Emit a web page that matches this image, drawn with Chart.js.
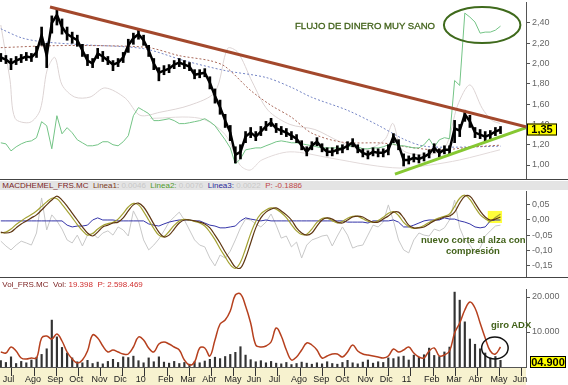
<!DOCTYPE html>
<html>
<head>
<meta charset="utf-8">
<script src="https://cdn.jsdelivr.net/npm/chart.js@4.4.0/dist/chart.umd.min.js"></script>
<style>
body { margin: 0; background: #fff; font-family: Arial, "Liberation Sans", sans-serif; }
#wrap { position: relative; width: 568px; height: 385px; overflow: hidden; }
canvas { position: absolute; left: 0; }
.hdr { position: absolute; left: 0; width: 568px; height: 9px; font-size: 8px; line-height: 9px; white-space: nowrap; }
.note { position: absolute; color: #42621a; white-space: nowrap; }
</style>
</head>
<body>
<div id="wrap">
  <canvas id="cPrice" width="568" height="180" style="top:0"></canvas>
  <canvas id="cMacd" width="568" height="98" style="top:180px"></canvas>
  <canvas id="cVol" width="568" height="107" style="top:278px"></canvas>

  <div class="hdr" style="top:181px;background:#e4e4e4;">
    &nbsp;<span style="color:#7a1e1e">MACDHEMEL_FRS.MC</span>&nbsp;
    <span style="color:#7a3a1a">Linea1:</span> <span style="color:#c8c8c8">0.0046</span>&nbsp;
    <span style="color:#4f9a2a">Linea2:</span> <span style="color:#c8c8c8">0.0076</span>&nbsp;
    <span style="color:#2a2a9a">Linea3:</span> <span style="color:#c8c8c8">0.0022</span>&nbsp;
    <span style="color:#c04848">P: -0.1886</span>
  </div>
  <div class="hdr" style="top:280px;">
    &nbsp;<span style="color:#7a1e1e">Vol_FRS.MC</span>&nbsp;
    <span style="color:#7a1e1e">Vol:</span> <span style="color:#d03030">19.398</span>&nbsp;
    <span style="color:#d03030">P: 2.598.469</span>
  </div>

  <div class="note" style="left:295px;top:20px;font-size:9.6px;-webkit-text-stroke:0.3px #42621a;">FLUJO DE DINERO MUY SANO</div>
  <div class="note" style="left:421px;top:234px;font-size:9.5px;font-weight:bold;">nuevo corte al alza con</div>
  <div class="note" style="left:446px;top:245px;font-size:9.5px;font-weight:bold;">compresión</div>
  <div class="note" style="left:491px;top:319px;font-size:9.5px;font-weight:bold;">giro ADX</div>
</div>

<script>
// x axis: weeks since 1 Jul 2009
var X_MIN = -0.16, X_MAX = 103;
var WEEKS_PER_MONTH = 4.348;
var monthLabels = ['Jul', 'Ago', 'Sep', 'Oct', 'Nov', 'Dic', '10', 'Feb', 'Mar', 'Abr', 'May', 'Jun',
    'Jul', 'Ago', 'Sep', 'Oct', 'Nov', 'Dic', '11', 'Feb', 'Mar', 'Abr', 'May', 'Jun'];

var priceTicks = [1.00, 1.20, 1.40, 1.60, 1.80, 2.00, 2.20, 2.40];
var macdTicks = [-0.15, -0.10, -0.05, 0, 0.05];
var volTicks = [10000, 20000];

// weekly price: close, low, high
var priceClose = [2.06, 2.04, 2.00, 2.03, 2.05, 2.07, 2.06, 2.11, 2.28, 2.08,
    2.40, 2.48, 2.36, 2.29, 2.26, 2.23, 2.13, 2.03, 2.00, 2.10,
    2.07, 2.03, 1.99, 2.01, 2.06, 2.18, 2.25, 2.29, 2.23, 2.13,
    2.00, 1.91, 1.93, 1.95, 1.99, 2.01, 1.99, 1.97, 1.89, 1.90,
    1.91, 1.81, 1.68, 1.57, 1.44, 1.32, 1.10, 1.13, 1.28, 1.32,
    1.28, 1.33, 1.38, 1.42, 1.36, 1.34, 1.32, 1.29, 1.26, 1.19,
    1.13, 1.19, 1.23, 1.17, 1.13, 1.13, 1.15, 1.16, 1.19, 1.22,
    1.16, 1.12, 1.10, 1.13, 1.12, 1.12, 1.15, 1.28, 1.20, 1.05,
    1.05, 1.07, 1.06, 1.08, 1.11, 1.17, 1.12, 1.15, 1.15, 1.36,
    1.34, 1.50, 1.43, 1.32, 1.30, 1.28, 1.30, 1.33, 1.35];
var priceLow = [2.02, 2.00, 1.94, 1.99, 2.01, 2.03, 2.02, 2.06, 2.18, 1.96,
    2.30, 2.38, 2.29, 2.23, 2.20, 2.17, 2.07, 1.98, 1.96, 2.05,
    2.02, 1.99, 1.93, 1.97, 2.01, 2.11, 2.19, 2.24, 2.18, 2.07,
    1.94, 1.83, 1.89, 1.91, 1.95, 1.97, 1.95, 1.93, 1.85, 1.86,
    1.87, 1.75, 1.61, 1.50, 1.37, 1.24, 1.02, 1.06, 1.22, 1.27,
    1.24, 1.29, 1.34, 1.38, 1.32, 1.30, 1.28, 1.25, 1.22, 1.15,
    1.09, 1.15, 1.19, 1.13, 1.09, 1.09, 1.11, 1.12, 1.15, 1.18,
    1.12, 1.08, 1.06, 1.09, 1.08, 1.08, 1.10, 1.22, 1.15, 0.99,
    1.01, 1.03, 1.02, 1.04, 1.07, 1.12, 1.08, 1.11, 1.11, 1.22,
    1.28, 1.43, 1.37, 1.27, 1.26, 1.24, 1.26, 1.29, 1.31];
var priceHigh = [2.10, 2.08, 2.05, 2.07, 2.09, 2.11, 2.10, 2.17, 2.36, 2.20,
    2.47, 2.53, 2.44, 2.36, 2.31, 2.28, 2.19, 2.09, 2.05, 2.15,
    2.12, 2.07, 2.03, 2.05, 2.11, 2.24, 2.30, 2.34, 2.28, 2.18,
    2.05, 1.96, 1.98, 1.99, 2.03, 2.05, 2.03, 2.01, 1.94, 1.94,
    1.95, 1.87, 1.75, 1.64, 1.50, 1.39, 1.18, 1.20, 1.33, 1.37,
    1.33, 1.38, 1.43, 1.46, 1.41, 1.38, 1.36, 1.33, 1.30, 1.24,
    1.18, 1.23, 1.27, 1.21, 1.17, 1.17, 1.19, 1.20, 1.23, 1.26,
    1.20, 1.16, 1.14, 1.17, 1.16, 1.16, 1.20, 1.31, 1.25, 1.11,
    1.09, 1.11, 1.10, 1.12, 1.15, 1.21, 1.16, 1.19, 1.19, 1.44,
    1.40, 1.54, 1.49, 1.37, 1.35, 1.33, 1.34, 1.37, 1.38];
var lastPrice = 1.35;

// money flow (0-100)
var flow = [20, 19.4, 15.4, 17.7, 19.4, 20.6, 21.1, 22.9, 32, 29.7,
    16.6, 35.4, 25.1, 28.6, 25.7, 21.7, 20, 18.3, 18.3, 18.9,
    20.6, 20.6, 18.9, 18.3, 20.6, 24, 35.4, 40, 38.3, 36.6,
    32.6, 32.6, 33.1, 33.7, 32.6, 30.9, 30.9, 31.4, 32, 32.6,
    33.7, 32, 29.7, 25.7, 21.7, 17.1, 8, 10.9, 16, 16.6,
    17.1, 17.1, 18.3, 19.4, 20.6, 21.1, 20.6, 20, 20, 19.4,
    18.9, 18.3, 17.7, 17.1, 17.1, 17.1, 17.1, 17.1, 17.7, 18.3,
    17.7, 16.6, 16.6, 17.1, 17.1, 17.7, 18.9, 19.4, 18.3, 18.3,
    17.7, 17.1, 17.1, 18.9, 22.3, 17.7, 21.7, 22.9, 22.3, 55.4,
    52.6, 93.7, 91.4, 88.6, 82.3, 82.9, 82.9, 84, 86.3];

// moving averages
var maShortWeeks = [0, 10, 20, 29, 35, 41, 44, 49, 53, 57, 61, 67, 75, 80, 86, 92, 98];
var maShortVals = [2.157, 2.176, 2.176, 2.157, 2.078, 2.029, 1.971, 1.735, 1.588, 1.471, 1.314, 1.225, 1.216, 1.176, 1.147, 1.176, 1.196];
var maLongWeeks = [0, 4, 8, 16, 28, 36, 44, 52, 57, 61, 68, 74, 79, 83, 89, 98];
var maLongVals = [2.343, 2.255, 2.216, 2.186, 2.147, 2.029, 1.931, 1.863, 1.765, 1.667, 1.539, 1.392, 1.255, 1.186, 1.176, 1.186];

// pale bands
var bandUpWeeks = [0, 1.8, 2.8, 5.7, 7.7, 9.1, 10.6, 12.0, 14.5, 17.5, 20.4, 24.4, 27.3, 31.2, 37.1, 42.0, 44.5, 46.5,
    49.3, 52.4, 56.7, 61.6, 66.5, 71.4, 75.3, 76.9, 78.7, 83.2, 87.1, 89.6, 92.0, 94.4, 96.3, 97.9];
var bandUpVals = [2.38, 1.84, 1.46, 1.42, 1.54, 1.94, 2.06, 1.79, 1.67, 1.67, 1.76, 1.66, 1.49, 1.52, 1.59, 1.72, 2.15, 2.11,
    1.82, 1.54, 1.40, 1.35, 1.23, 1.15, 1.25, 1.41, 1.15, 1.10, 1.17, 1.59, 1.79, 1.56, 1.44, 1.41];
var bandLowWeeks = [29.3, 39.1, 44.0, 46.9, 48.9, 51.2, 56.7, 64.5, 72.4, 78.3, 84.2, 90.0, 97.9];
var bandLowVals = [1.46, 1.46, 1.30, 1.00, 0.95, 1.05, 1.13, 1.07, 1.00, 0.97, 1.00, 1.05, 1.15];

// trend lines
var resistWeeks = [9.65, 103];
var resistVals = [2.558, 1.377];
var supportWeeks = [77.3, 103];
var supportVals = [0.911, 1.368];

// MACD
var macdLinea1 = [-0.040, -0.043, -0.040, -0.026, -0.013, -0.003, 0.007, 0.017, 0.033, 0.050,
    0.066, 0.079, 0.066, 0.046, 0.023, 0.000, -0.023, -0.043, -0.053, -0.040,
    -0.023, -0.017, -0.010, -0.007, 0.007, 0.030, 0.050, 0.056, 0.043, 0.017,
    -0.013, -0.040, -0.056, -0.050, -0.030, -0.010, 0.000, 0.000, -0.003, -0.007,
    -0.013, -0.026, -0.050, -0.076, -0.106, -0.132, -0.156, -0.159, -0.126, -0.076,
    -0.026, 0.007, 0.026, 0.036, 0.040, 0.030, 0.017, 0.000, -0.026, -0.043,
    -0.050, -0.043, -0.020, 0.000, 0.007, 0.003, -0.007, -0.010, 0.000, 0.010,
    0.013, 0.010, 0.000, -0.007, -0.007, 0.003, 0.013, 0.026, 0.026, 0.007,
    -0.017, -0.026, -0.026, -0.023, -0.013, -0.003, 0.003, 0.010, 0.013, 0.026,
    0.056, 0.079, 0.079, 0.056, 0.030, 0.010, 0.000, 0.003, 0.010];
var macdLinea2 = [-0.043, -0.040, -0.030, -0.015, -0.003, 0.008, 0.018, 0.030, 0.045, 0.060,
    0.072, 0.070, 0.052, 0.030, 0.008, -0.015, -0.035, -0.050, -0.045, -0.030,
    -0.018, -0.012, -0.008, 0.003, 0.022, 0.043, 0.055, 0.050, 0.028, 0.000,
    -0.028, -0.050, -0.055, -0.038, -0.018, -0.003, 0.002, 0.000, -0.005, -0.010,
    -0.020, -0.040, -0.065, -0.095, -0.122, -0.148, -0.160, -0.140, -0.095, -0.045,
    -0.005, 0.020, 0.033, 0.040, 0.036, 0.024, 0.008, -0.015, -0.036, -0.048,
    -0.047, -0.030, -0.008, 0.005, 0.006, -0.002, -0.010, -0.005, 0.006, 0.012,
    0.012, 0.004, -0.004, -0.008, -0.002, 0.009, 0.022, 0.028, 0.015, -0.008,
    -0.022, -0.028, -0.025, -0.018, -0.008, 0.000, 0.007, 0.012, 0.020, 0.045,
    0.072, 0.082, 0.068, 0.042, 0.018, 0.004, -0.003, 0.008, 0.020];
var macdLinea3 = [-0.003, -0.003, -0.003, -0.003, -0.003, -0.003, -0.003, -0.003, -0.003, -0.003,
    -0.003, -0.003, -0.003, -0.017, -0.023, -0.020, -0.020, -0.017, 0.000, 0.007,
    0.000, 0.000, 0.000, -0.003, -0.003, -0.003, -0.003, -0.003, -0.003, -0.013,
    -0.017, -0.020, -0.013, -0.007, -0.003, 0.000, 0.000, 0.000, -0.003, -0.003,
    -0.010, -0.017, -0.020, -0.026, -0.026, -0.023, -0.020, -0.003, 0.007, 0.003,
    0.000, -0.003, 0.000, -0.003, -0.003, -0.003, -0.003, -0.003, -0.003, -0.003,
    -0.003, -0.003, -0.003, -0.003, -0.003, -0.003, -0.003, -0.003, -0.007, -0.007,
    -0.007, -0.007, -0.010, -0.003, -0.003, -0.003, -0.003, 0.000, -0.007, -0.023,
    -0.023, -0.017, -0.010, -0.003, 0.000, 0.000, 0.000, 0.007, 0.003, 0.003,
    -0.003, -0.007, -0.013, -0.023, -0.026, -0.023, -0.003, 0.000, 0.000];
var macdOsc = [-0.070, -0.086, -0.099, -0.083, -0.070, -0.076, -0.083, -0.043, 0.073, -0.033,
    0.017, -0.003, -0.030, -0.066, -0.076, -0.050, -0.086, -0.050, -0.043, -0.060,
    -0.043, -0.036, -0.050, -0.023, -0.033, -0.053, 0.030, -0.003, -0.066, -0.099,
    -0.083, -0.063, -0.036, -0.007, 0.010, 0.026, 0.000, -0.033, -0.066, -0.083,
    -0.089, -0.126, -0.152, -0.116, -0.126, -0.103, -0.066, -0.026, 0.003, 0.000,
    -0.013, -0.023, -0.007, 0.020, -0.017, -0.060, -0.053, -0.089, -0.073, -0.126,
    -0.083, -0.066, -0.060, -0.053, -0.050, -0.086, -0.053, -0.023, -0.050, -0.093,
    -0.086, -0.083, -0.050, -0.017, -0.023, -0.007, 0.050, -0.003, -0.066, -0.099,
    -0.109, -0.066, -0.043, -0.050, -0.053, -0.030, -0.036, -0.026, 0.000, 0.066,
    -0.026, -0.066, -0.083, -0.109, -0.093, -0.053, -0.036, -0.020, -0.017];

// volume and ADX
var volume = [1800, 1300, 2900, 1000, 1600, 1200, 2000, 2800, 3600, 5200,
    13400, 8600, 5600, 4000, 2600, 1500, 1200, 1900, 1000, 1400,
    900, 1600, 2200, 1300, 2900, 2700, 3100, 1800, 1200, 2600,
    1500, 2900, 1400, 1100, 1600, 1000, 1300, 800, 1500, 1200,
    1700, 2200, 2800, 2400, 3000, 3600, 4200, 5800, 3400, 2100,
    1500, 1800, 1200, 1600, 1100, 900, 1300, 700, 1000, 1400,
    1100, 800, 1200, 900, 1500, 1000, 800, 1300, 1900, 1200,
    900, 1400, 2000, 1100, 1500, 1300, 2600, 2400, 2900, 3100,
    2000, 3400, 2800, 3500, 5400, 3300, 3000, 4300, 5700, 21400,
    19100, 12900, 8000, 6500, 5200, 4000, 2600, 3000, 1900];
var adx = [15, 14, 20, 16, 9, 8, 9, 9, 29, 31,
    28, 33, 26, 15, 8, 4, 7, 16, 32, 29,
    21, 15, 17, 15, 13, 13, 20, 30, 27, 19,
    15, 23, 25, 23, 20, 17, 7, 2, 5, 19,
    19, 11, 27, 43, 47, 56, 72, 73, 61, 44,
    22, 20, 21, 25, 39, 31, 17, 7, 10, 17,
    24, 22, 17, 9, 11, 13, 13, 10, 15, 22,
    16, 13, 12, 11, 10, 9, 11, 18, 15, 17,
    20, 14, 10, 9, 16, 19, 11, 12, 16, 34,
    44, 57, 65, 59, 44, 29, 16, 13, 20];
var lastVolLabel = '04.900';

// annotations (data units)
var flowOval = { week: 94.4, value: 2.38, rw: 7.5, rv: 0.178 };
var crossBox = { from: 95.5, to: 98.3, low: -0.010, high: 0.030 };
var adxOval = { week: 96.9, value: 19, rw: 2.6, rv: 11 };

Chart.defaults.font.family = 'Arial, "Liberation Sans", sans-serif';

function pts(xs, ys) {
    return ys.map(function (v, i) { return { x: xs ? xs[i] : i, y: v }; });
}
function fmtDec(v) { return v.toFixed(2).replace('.', ','); }
function fmtVol(v) { return String(Math.round(v)).replace(/\B(?=(\d{3})+(?!\d))/g, '.'); }

function xHidden() {
    return { type: 'linear', min: X_MIN, max: X_MAX, offset: false, display: false };
}
function rightAxis(min, max, ticks, fmt) {
    return {
        position: 'right', min: min, max: max,
        afterBuildTicks: function (s) { s.ticks = ticks.map(function (v) { return { value: v }; }); },
        afterFit: function (s) { s.width = 42; s.paddingTop = 0; s.paddingBottom = 0; },
        grid: { drawOnChartArea: false, drawTicks: true, tickLength: 4, color: '#555' },
        border: { display: true, color: '#555' },
        ticks: { font: { size: 9 }, color: '#666', padding: 2, callback: function (v) { return fmt(v); } }
    };
}
function line(label, data, color, extra) {
    var d = { type: 'line', label: label, data: data, borderColor: color, borderWidth: 1, pointRadius: 0, tension: 0, fill: false };
    for (var k in extra) d[k] = extra[k];
    return d;
}
function oval(ctx, xs, ys, o, color, width) {
    var cx = xs.getPixelForValue(o.week), cy = ys.getPixelForValue(o.value);
    var rx = xs.getPixelForValue(o.week + o.rw) - cx;
    var ry = cy - ys.getPixelForValue(o.value + o.rv);
    ctx.save();
    ctx.strokeStyle = color;
    ctx.lineWidth = width;
    ctx.beginPath();
    ctx.ellipse(cx, cy, rx, ry, 0, 0, Math.PI * 2);
    ctx.stroke();
    ctx.restore();
}
function bottomLine(chart) {
    var c = chart.ctx;
    c.save();
    c.strokeStyle = '#444';
    c.beginPath();
    c.moveTo(0, chart.height - 0.5);
    c.lineTo(chart.width, chart.height - 0.5);
    c.stroke();
    c.restore();
}
function valueBox(ctx, x, y, w, text) {
    ctx.save();
    ctx.fillStyle = '#ffff00';
    ctx.fillRect(x, y - 6, w, 12);
    ctx.strokeStyle = '#000';
    ctx.lineWidth = 1;
    ctx.strokeRect(x + 0.5, y - 5.5, w - 1, 11);
    ctx.fillStyle = '#000';
    ctx.font = 'bold 11px Arial, "Liberation Sans"';
    ctx.textAlign = 'center';
    ctx.textBaseline = 'middle';
    ctx.fillText(text, x + w / 2, y + 0.5);
    ctx.restore();
}

var common = { responsive: false, animation: false, devicePixelRatio: 1,
    plugins: { legend: { display: false }, tooltip: { enabled: false } } };
function opts(extra) {
    var o = JSON.parse(JSON.stringify(common));
    for (var k in extra) o[k] = extra[k];
    return o;
}

// ---- price panel
var priceBars = priceLow.map(function (lo, i) { return { x: i, y: [lo, priceHigh[i]] }; });

new Chart(document.getElementById('cPrice'), {
    type: 'bar',
    data: {
        datasets: [
            line('Resistencia', pts(resistWeeks, resistVals), '#a3482c', { borderWidth: 3, order: 0 }),
            line('Soporte', pts(supportWeeks, supportVals), '#86c832', { borderWidth: 3, order: 0 }),
            line('Cierre', pts(null, priceClose), '#000', { borderWidth: 2.5, order: 1 }),
            { label: 'FRS.MC', data: priceBars, backgroundColor: '#000', barThickness: 2, grouped: false, order: 1 },
            line('Flujo', pts(null, flow), '#74c486', { yAxisID: 'yFlow', order: 2 }),
            line('Media corta', pts(maShortWeeks, maShortVals), '#a8685a', { borderDash: [2, 2], tension: 0.3, order: 3 }),
            line('Media larga', pts(maLongWeeks, maLongVals), '#7484c4', { borderDash: [2, 2], tension: 0.3, order: 3 }),
            line('Banda sup', pts(bandUpWeeks, bandUpVals), '#ddd4d4', { tension: 0.3, order: 4 }),
            line('Banda inf', pts(bandLowWeeks, bandLowVals), '#e2dada', { tension: 0.3, order: 4 })
        ]
    },
    options: opts({
        layout: { padding: { top: 2, bottom: 2, left: 0, right: 0 } },
        scales: {
            x: xHidden(),
            y: rightAxis(0.872, 2.607, priceTicks, fmtDec),
            yFlow: { display: false, min: 0, max: 100 }
        }
    }),
    plugins: [{
        id: 'priceExtras',
        afterDatasetsDraw: function (chart) {
            oval(chart.ctx, chart.scales.x, chart.scales.y, flowOval, '#3f6a1c', 2);
        },
        afterDraw: function (chart) {
            valueBox(chart.ctx, chart.chartArea.right + 1, chart.scales.y.getPixelForValue(lastPrice), 30, fmtDec(lastPrice));
            bottomLine(chart);
        }
    }]
});

// ---- MACD panel
new Chart(document.getElementById('cMacd'), {
    type: 'line',
    data: {
        datasets: [
            line('Linea1', pts(null, macdLinea1), '#5e3612', { tension: 0.35, borderWidth: 1.2 }),
            line('Linea2', pts(null, macdLinea2), '#a4a232', { tension: 0.35, borderWidth: 1.2 }),
            line('Linea3', pts(null, macdLinea3), '#3434a8', {}),
            line('P', pts(null, macdOsc), '#c8c8c8', {})
        ]
    },
    options: opts({
        layout: { padding: { top: 11, bottom: 2, left: 0, right: 0 } },
        scales: {
            x: xHidden(),
            y: rightAxis(-0.1854, 0.096, macdTicks, fmtDec)
        }
    }),
    plugins: [{
        id: 'macdExtras',
        beforeDatasetsDraw: function (chart) {
            var xs = chart.scales.x, ys = chart.scales.y, c = chart.ctx;
            var x0 = xs.getPixelForValue(crossBox.from), x1 = xs.getPixelForValue(crossBox.to);
            var y0 = ys.getPixelForValue(crossBox.high), y1 = ys.getPixelForValue(crossBox.low);
            c.save();
            c.fillStyle = '#ffff3c';
            c.fillRect(x0, y0, x1 - x0, y1 - y0);
            c.restore();
        },
        afterDraw: function (chart) { bottomLine(chart); }
    }]
});

// ---- volume panel
new Chart(document.getElementById('cVol'), {
    type: 'bar',
    data: {
        datasets: [
            line('ADX', pts(null, adx), '#b6401e', { yAxisID: 'yAdx', tension: 0.4, borderWidth: 1.5, order: 0 }),
            { label: 'Vol', data: pts(null, volume), backgroundColor: '#333', barThickness: 1.5, grouped: false, order: 1 }
        ]
    },
    options: opts({
        layout: { padding: { top: 11, bottom: 0, left: 0, right: 0 } },
        scales: {
            x: {
                type: 'linear', min: X_MIN, max: X_MAX, offset: false, position: 'bottom',
                afterBuildTicks: function (s) {
                    s.ticks = monthLabels.map(function (_, m) { return { value: m * WEEKS_PER_MONTH }; });
                },
                afterFit: function (s) { s.height = 18; s.paddingLeft = 0; s.paddingRight = 0; },
                grid: { drawOnChartArea: false, drawTicks: true, tickLength: 9, color: '#333' },
                border: { display: true, color: '#555' },
                ticks: {
                    autoSkip: false, maxRotation: 0, align: 'start', labelOffset: 2, padding: -2,
                    font: { size: 9 }, color: '#222',
                    callback: function (v, i) { return monthLabels[i]; }
                }
            },
            y: rightAxis(0, 22290, volTicks, fmtVol),
            yAdx: { display: false, min: 0, max: 78 }
        }
    }),
    plugins: [{
        id: 'volExtras',
        beforeDraw: function (chart) {
            var c = chart.ctx, a = chart.chartArea;
            c.save();
            c.fillStyle = '#f7f2cf';
            c.fillRect(0, a.bottom, a.right, chart.height - a.bottom);
            c.restore();
        },
        afterDatasetsDraw: function (chart) {
            oval(chart.ctx, chart.scales.x, chart.scales.yAdx, adxOval, '#111', 1.5);
        },
        afterDraw: function (chart) {
            valueBox(chart.ctx, chart.chartArea.right + 4, chart.chartArea.bottom - 5, 36, lastVolLabel);
        }
    }]
});
</script>
</body>
</html>
